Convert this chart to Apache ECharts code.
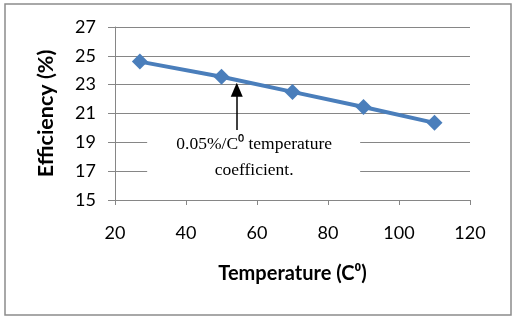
<!DOCTYPE html>
<html>
<head>
<meta charset="utf-8">
<script src="https://cdn.jsdelivr.net/npm/echarts@6/dist/echarts.min.js"></script>
<style>
  html, body { margin: 0; padding: 0; background: #fff; }
  #chartMain { width: 516px; height: 320px; }
</style>
</head>
<body>
<div id="chartMain"></div>
<script>
var temperature = [27, 50, 70, 90, 110];
var efficiency = [24.6, 23.55, 22.5, 21.45, 20.35];
var arrowFrom = [54.3, 19.85];
var arrowTo = [54.3, 22.65];
var noteLines = ['0.05%/C⁰ temperature', 'coefficient.'];
var noteCenter = [59.2, 17.92];

var chart = echarts.init(document.getElementById('chartMain'));

var data = [];
for (var i = 0; i < temperature.length; i++) {
    data.push([temperature[i], efficiency[i]]);
}

var labelFont = 'Lato, "Open Sans", sans-serif';

var option = {
    animation: false,
    grid: { left: 115, right: 46, top: 27, bottom: 120 },
    xAxis: {
        type: 'value', min: 20, max: 120, interval: 20,
        name: 'Temperature (C⁰)', nameLocation: 'middle', nameGap: 64,
        nameTextStyle: { fontFamily: labelFont, fontWeight: 'bold', fontSize: 20, color: '#000' },
        axisLine: { show: true, lineStyle: { color: '#868686', width: 1 } },
        axisTick: { show: true, length: 5, lineStyle: { color: '#868686' } },
        axisLabel: { margin: 24, fontFamily: labelFont, fontSize: 18, color: '#000' },
        splitLine: { show: false }
    },
    yAxis: {
        type: 'value', min: 15, max: 27, interval: 2,
        name: 'Efficiency (%)', nameLocation: 'middle', nameGap: 58,
        nameTextStyle: { fontFamily: labelFont, fontWeight: 'bold', fontSize: 21.5, color: '#000' },
        axisLine: { show: true, lineStyle: { color: '#868686', width: 1 } },
        axisTick: { show: true, length: 7, lineStyle: { color: '#868686' } },
        axisLabel: { margin: 19, fontFamily: labelFont, fontSize: 18, color: '#000' },
        splitLine: { show: true, lineStyle: { color: '#868686', width: 1 } }
    },
    series: [{
        type: 'line',
        data: data,
        symbol: 'diamond',
        symbolSize: 16,
        lineStyle: { color: '#4A7EBB', width: 4 },
        itemStyle: { color: '#4A7EBB' },
        z: 3,
        markLine: {
            silent: true,
            symbol: ['none', 'triangle'],
            symbolSize: [12, 14],
            label: { show: false },
            lineStyle: { color: '#000', width: 1.5, type: 'solid' },
            data: [[{ coord: arrowFrom }, { coord: arrowTo }]]
        }
    }]
};

chart.setOption(option);

// white note box with the annotation text, placed through the grid's scale
var c = chart.convertToPixel({ gridIndex: 0 }, noteCenter);
chart.setOption({
    graphic: [
        {
            type: 'rect', z: 1,
            shape: { x: c[0] - 107, y: c[1] - 27, width: 213, height: 54 },
            style: { fill: '#fff' }
        },
        {
            type: 'text', z: 5,
            x: c[0], y: c[1],
            style: {
                text: noteLines.join('\n'),
                fontFamily: '"Liberation Serif", serif',
                fontSize: 17.5,
                lineHeight: 26,
                fill: '#000',
                align: 'center',
                verticalAlign: 'middle'
            }
        },
        {
            type: 'rect', z: 10,
            shape: { x: 5, y: 4, width: 506, height: 311 },
            style: { fill: 'none', stroke: '#8c8c8c', lineWidth: 1.5 }
        }
    ]
});
</script>
</body>
</html>
